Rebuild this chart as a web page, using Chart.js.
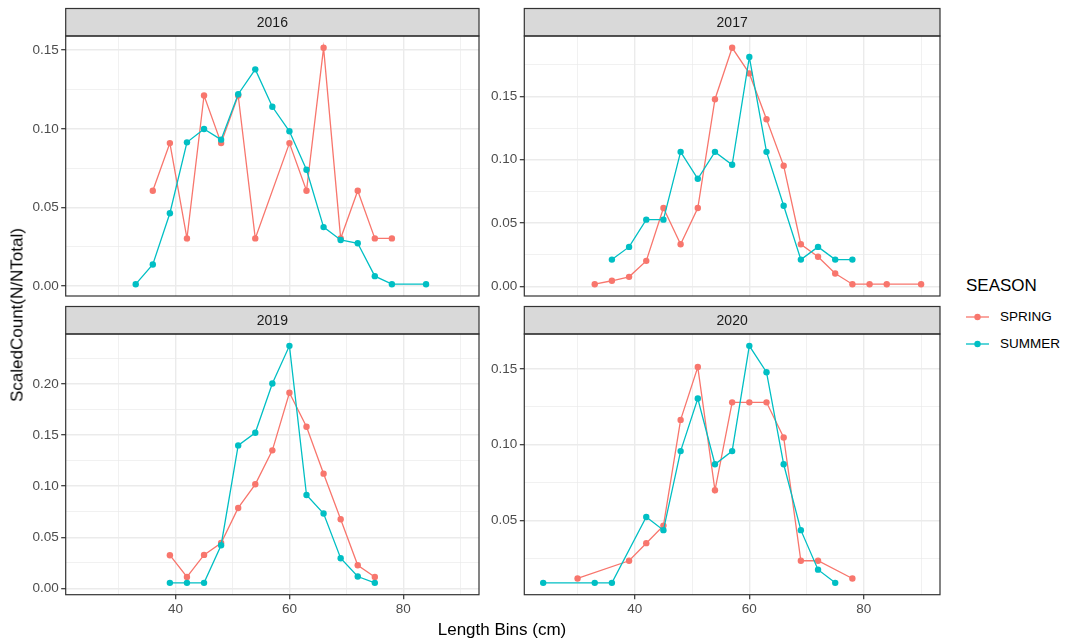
<!DOCTYPE html>
<html>
<head>
<meta charset="utf-8">
<script src="https://cdn.jsdelivr.net/npm/chart.js@4.4.1/dist/chart.umd.min.js"></script>
<style>
  body { margin: 0; background: #fff; }
  #fig { position: relative; width: 1066px; height: 642px; background: #fff; overflow: hidden;
         font-family: "Liberation Sans", Arial, sans-serif; }
  canvas { position: absolute; }
  .title { position: absolute; color: #000; font-size: 17px; white-space: nowrap; line-height: 1; }
  #ytitle { left: 17px; top: 315px; transform: translate(-50%, -50%) rotate(-90deg); }
  #xtitle { left: 502px; top: 629px; transform: translate(-50%, -50%); }
  #legend { position: absolute; left: 966px; top: 277px; }
  #legend .head { font-size: 17px; line-height: 18px; margin-bottom: 8px; }
  #legend .item { display: flex; align-items: center; height: 27px; font-size: 13.5px; }
  #legend svg { margin-right: 11px; }
</style>
</head>
<body>
<div id="fig">
  <canvas id="c2016" width="485" height="300" style="left:0;top:0"></canvas>
  <canvas id="c2017" width="461" height="300" style="left:485px;top:0"></canvas>
  <canvas id="c2019" width="485" height="342" style="left:0;top:300px"></canvas>
  <canvas id="c2020" width="461" height="342" style="left:485px;top:300px"></canvas>
  <div class="title" id="ytitle">ScaledCount(N/NTotal)</div>
  <div class="title" id="xtitle">Length Bins (cm)</div>
  <div id="legend"></div>
</div>
<script>
const seasons = ["SPRING", "SUMMER"];
const seasonColors = ["#F8766D", "#00BFC4"];
const xTicks = [40, 60, 80];

// 2016
const bins2016Spring = [36, 39, 42, 45, 48, 51, 54, 60, 63, 66, 69, 72, 75, 78];
const vals2016Spring = [0.0606, 0.0909, 0.0303, 0.1212, 0.0909, 0.1212, 0.0303, 0.0909, 0.0606, 0.1515, 0.0303, 0.0606, 0.0303, 0.0303];
const bins2016Summer = [33, 36, 39, 42, 45, 48, 51, 54, 57, 60, 63, 66, 69, 72, 75, 78, 84];
const vals2016Summer = [0.0012, 0.0137, 0.0463, 0.0914, 0.0999, 0.0931, 0.1220, 0.1378, 0.1140, 0.0984, 0.0740, 0.0375, 0.0293, 0.0272, 0.0063, 0.0012, 0.0012];
const yTicks2016 = [0, 0.05, 0.10, 0.15];

// 2017
const bins2017Spring = [33, 36, 39, 42, 45, 48, 51, 54, 57, 60, 63, 66, 69, 72, 75, 78, 81, 84, 90];
const vals2017Spring = [0.0018, 0.0045, 0.0076, 0.0202, 0.0619, 0.0333, 0.0619, 0.1477, 0.1883, 0.1681, 0.1319, 0.0952, 0.0333, 0.0234, 0.0102, 0.0018, 0.0018, 0.0018, 0.0018];
const bins2017Summer = [36, 39, 42, 45, 48, 51, 54, 57, 60, 63, 66, 69, 72, 75, 78];
const vals2017Summer = [0.0212, 0.0312, 0.0527, 0.0527, 0.1062, 0.0850, 0.1062, 0.0960, 0.1810, 0.1062, 0.0637, 0.0212, 0.0312, 0.0212, 0.0212];
const yTicks2017 = [0, 0.05, 0.10, 0.15];

// 2019
const bins2019Spring = [39, 42, 45, 48, 51, 54, 57, 60, 63, 66, 69, 72, 75];
const vals2019Spring = [0.0325, 0.0113, 0.0328, 0.0445, 0.0787, 0.1018, 0.1350, 0.1912, 0.1580, 0.1122, 0.0676, 0.0227, 0.0113];
const bins2019Summer = [39, 42, 45, 48, 51, 54, 57, 60, 63, 66, 69, 72, 75];
const vals2019Summer = [0.0055, 0.0055, 0.0055, 0.0423, 0.1398, 0.1522, 0.2003, 0.2371, 0.0913, 0.0732, 0.0296, 0.0117, 0.0055];
const yTicks2019 = [0, 0.05, 0.10, 0.15, 0.20];

// 2020
const bins2020Spring = [30, 39, 42, 45, 48, 51, 54, 57, 60, 63, 66, 69, 72, 78];
const vals2020Spring = [0.0116, 0.0233, 0.0349, 0.0465, 0.1163, 0.1512, 0.0698, 0.1279, 0.1279, 0.1279, 0.1047, 0.0233, 0.0233, 0.0116];
const bins2020Summer = [24, 33, 36, 42, 45, 48, 51, 54, 57, 60, 63, 66, 69, 72, 75];
const vals2020Summer = [0.0087, 0.0087, 0.0087, 0.0522, 0.0435, 0.0957, 0.1304, 0.0870, 0.0957, 0.1652, 0.1478, 0.0870, 0.0435, 0.0174, 0.0087];
const yTicks2020 = [0.05, 0.10, 0.15];

const FONT = "'Liberation Sans', Arial, sans-serif";
const GRID = "#EBEBEB";
const INK = "#333333";

// shared x range: data span padded by 5% each side
const allBins = [].concat(bins2016Spring, bins2016Summer, bins2017Spring, bins2017Summer,
  bins2019Spring, bins2019Summer, bins2020Spring, bins2020Summer);
const xLo = Math.min(...allBins), xHi = Math.max(...allBins);
const xMin = xLo - (xHi - xLo) * 0.05, xMax = xHi + (xHi - xLo) * 0.05;

// majors plus the half-way lines that fall inside [lo, hi]
function gridValues(majors, lo, hi) {
  const half = (majors[1] - majors[0]) / 2;
  const out = [];
  for (let k = Math.ceil(lo / half); k * half <= hi + 1e-9; k++) out.push(+(k * half).toFixed(6));
  return out;
}
const isIn = (arr, v) => arr.some(m => Math.abs(m - v) < 1e-6);

const panelFrame = {
  id: "panelFrame",
  afterDraw(chart, args, opts) {
    const { ctx, chartArea: a } = chart;
    const sh = 27.5;
    ctx.save();
    ctx.fillStyle = "#D9D9D9";
    ctx.fillRect(a.left, a.top - sh, a.right - a.left, sh);
    ctx.strokeStyle = INK;
    ctx.lineWidth = 1.2;
    ctx.strokeRect(a.left, a.top - sh, a.right - a.left, sh);
    ctx.strokeRect(a.left, a.top, a.right - a.left, a.bottom - a.top);
    ctx.fillStyle = "#1A1A1A";
    ctx.font = "14px " + FONT;
    ctx.textAlign = "center";
    ctx.textBaseline = "middle";
    ctx.fillText(opts.label, (a.left + a.right) / 2, a.top - sh / 2 + 1);
    ctx.restore();
  }
};

function makePanel(id, year, springBins, springVals, summerBins, summerVals, yTicks, p) {
  const vals = springVals.concat(summerVals);
  const lo = Math.min(...vals), hi = Math.max(...vals);
  const yMin = lo - (hi - lo) * 0.05, yMax = hi + (hi - lo) * 0.05;
  const yGrid = gridValues(yTicks, yMin, yMax);
  const xGrid = gridValues(xTicks, xMin, xMax);
  const series = [[springBins, springVals], [summerBins, summerVals]];

  new Chart(document.getElementById(id), {
    type: "line",
    data: {
      datasets: series.map(([b, v], i) => ({
        label: seasons[i],
        data: b.map((x, j) => ({ x: x, y: v[j] })),
        borderColor: seasonColors[i],
        backgroundColor: seasonColors[i],
        borderWidth: 1.3,
        pointRadius: 3.2,
        pointBorderWidth: 0,
        tension: 0,
        order: 1 - i
      }))
    },
    options: {
      responsive: false,
      animation: false,
      events: [],
      layout: { padding: { top: p.top, bottom: p.bottom, left: 0, right: p.right } },
      plugins: { legend: { display: false }, tooltip: { enabled: false }, panelFrame: { label: year } },
      scales: {
        x: {
          type: "linear",
          min: xMin,
          max: xMax,
          afterBuildTicks: s => { s.ticks = xGrid.map(v => ({ value: v })); },
          afterFit: s => { s.height = p.showX ? 30 : 0; s.paddingLeft = 0; s.paddingRight = 0; },
          border: { display: false },
          grid: {
            color: GRID,
            lineWidth: c => isIn(xTicks, c.tick.value) ? 1.4 : 0.7,
            drawTicks: p.showX,
            tickLength: 4.5,
            tickColor: c => isIn(xTicks, c.tick.value) ? INK : "rgba(0,0,0,0)",
            tickWidth: 1.2
          },
          ticks: {
            display: p.showX,
            autoSkip: false,
            maxRotation: 0,
            padding: 2,
            color: "#4D4D4D",
            font: { family: FONT, size: 13.5 },
            callback: v => isIn(xTicks, v) ? String(v) : ""
          }
        },
        y: {
          min: yMin,
          max: yMax,
          afterBuildTicks: s => { s.ticks = yGrid.map(v => ({ value: v })); },
          afterFit: s => { s.width = p.axisW; s.paddingTop = 0; s.paddingBottom = 0; },
          border: { display: false },
          grid: {
            color: GRID,
            lineWidth: c => isIn(yTicks, c.tick.value) ? 1.4 : 0.7,
            tickLength: 4.5,
            tickColor: c => isIn(yTicks, c.tick.value) ? INK : "rgba(0,0,0,0)",
            tickWidth: 1.2
          },
          ticks: {
            autoSkip: false,
            padding: 2.5,
            color: "#4D4D4D",
            font: { family: FONT, size: 13.5 },
            callback: v => isIn(yTicks, v) ? v.toFixed(2) : ""
          }
        }
      }
    },
    plugins: [panelFrame]
  });
}

makePanel("c2016", "2016", bins2016Spring, vals2016Spring, bins2016Summer, vals2016Summer, yTicks2016,
  { top: 36, bottom: 3.3, right: 6, axisW: 65.7, showX: false });
makePanel("c2017", "2017", bins2017Spring, vals2017Spring, bins2017Summer, vals2017Summer, yTicks2017,
  { top: 36, bottom: 3.3, right: 6, axisW: 39.3, showX: false });
makePanel("c2019", "2019", bins2019Spring, vals2019Spring, bins2019Summer, vals2019Summer, yTicks2019,
  { top: 34, bottom: 17.3, right: 6, axisW: 65.7, showX: true });
makePanel("c2020", "2020", bins2020Spring, vals2020Spring, bins2020Summer, vals2020Summer, yTicks2020,
  { top: 34, bottom: 17.3, right: 6, axisW: 39.3, showX: true });

// legend keys: short line with a dot, one per season
const legend = document.getElementById("legend");
legend.innerHTML = '<div class="head">SEASON</div>' + seasons.map((s, i) =>
  '<div class="item"><svg width="23" height="10"><line x1="0" y1="5" x2="23" y2="5" stroke="' + seasonColors[i] +
  '" stroke-width="1.3"/><circle cx="11.5" cy="5" r="3.2" fill="' + seasonColors[i] + '"/></svg>' + s + '</div>'
).join("");
</script>
</body>
</html>
